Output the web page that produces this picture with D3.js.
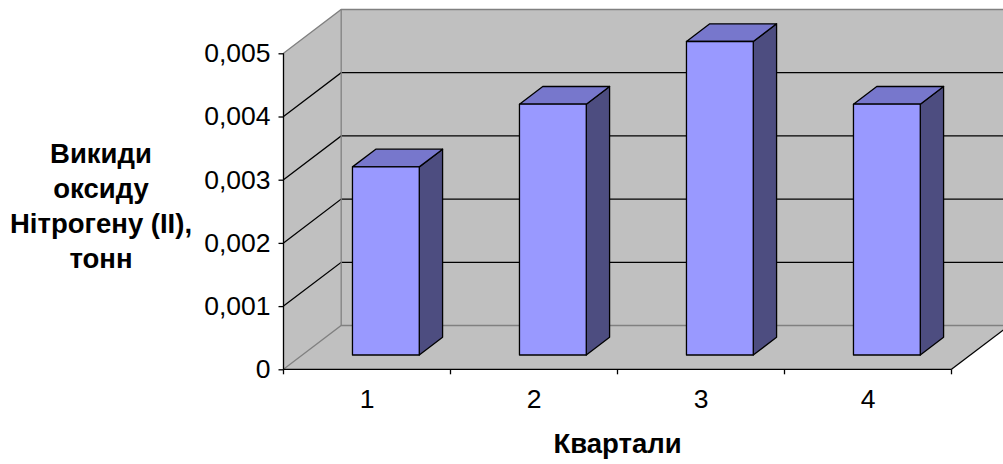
<!DOCTYPE html>
<html>
<head>
<meta charset="utf-8">
<script src="https://cdn.jsdelivr.net/npm/d3@7"></script>
<style>
  html, body { margin: 0; padding: 0; background: #ffffff; }
  svg { display: block; }
  text { font-family: "Liberation Sans", Arial, sans-serif; fill: #000; }
</style>
</head>
<body>
<svg id="chart" width="1003" height="464"></svg>
<script>
// Quarterly emissions of nitrogen(II) oxide, tonnes
const categories = ["1", "2", "3", "4"];
const emissions = [0.003, 0.004, 0.005, 0.004];
const yTicks = [0, 0.001, 0.002, 0.003, 0.004, 0.005];
const yTickLabels = ["0", "0,001", "0,002", "0,003", "0,004", "0,005"];
const yTitleLines = ["Викиди", "оксиду", "Нітрогену (II),", "тонн"];
const xTitle = "Квартали";

const svg = d3.select("#chart");

// Oblique 3D frame: front plane scales plus a depth offset
const DX = 57.7, DY = 43.8;          // full depth of the box
const F0 = 0.327, F1 = 0.731;        // bar front / back depth fractions

const x = d3.scaleBand()
  .domain(categories)
  .range([283.5, 951.5])
  .paddingInner(0.6)
  .paddingOuter(0.3);

const y = d3.scaleLinear().domain([0, 0.005]).range([369.3, 53.3]);
const h = d3.scaleLinear().domain([0, 0.005]).range([0, 313.5]);

const x0 = x.range()[0], x1 = x.range()[1];
const yMin = y(0), yMax = y(0.005);
const P = (px, py, f) => [px + f * DX, py - f * DY];
const poly = pts => pts.map(p => p.join(",")).join(" ");

const wallFill = "#c0c0c0", edge = "#808080";

// Left side wall
svg.append("polygon")
  .attr("points", poly([[x0, yMax], P(x0, yMax, 1), P(x0, yMin, 1), [x0, yMin]]))
  .attr("fill", wallFill);

// Back wall
svg.append("polygon")
  .attr("points", poly([P(x0, yMax, 1), P(x1, yMax, 1), P(x1, yMin, 1), P(x0, yMin, 1)]))
  .attr("fill", wallFill);

// Floor
svg.append("polygon")
  .attr("points", poly([[x0, yMin], P(x0, yMin, 1), P(x1, yMin, 1), [x1, yMin]]))
  .attr("fill", wallFill);

// Gridlines on side wall and back wall
const inner = yTicks.filter(v => v > 0 && v < 0.005);
const grid = svg.append("g").attr("stroke", "#000").attr("stroke-width", 1.3).attr("fill", "none");
inner.forEach(v => {
  grid.append("polyline")
    .attr("points", poly([[x0, y(v)], P(x0, y(v), 1), P(x1, y(v), 1)]));
});

// Wall edges
const edges = svg.append("g").attr("stroke", edge).attr("stroke-width", 1.3).attr("fill", "none");
edges.append("polyline").attr("points", poly([[x0, yMax], P(x0, yMax, 1), P(x1, yMax, 1)]));
edges.append("line")
  .attr("x1", P(x0, yMax, 1)[0]).attr("y1", P(x0, yMax, 1)[1])
  .attr("x2", P(x0, yMin, 1)[0]).attr("y2", P(x0, yMin, 1)[1]);
edges.append("polyline").attr("points", poly([[x0, yMin], P(x0, yMin, 1), P(x1, yMin, 1)]));

// Floor front-right edge
svg.append("line")
  .attr("x1", x1).attr("y1", yMin)
  .attr("x2", P(x1, yMin, 1)[0]).attr("y2", P(x1, yMin, 1)[1])
  .attr("stroke", "#000").attr("stroke-width", 1.3);

// Bars as prisms
const bars = svg.append("g").attr("stroke", "#000").attr("stroke-width", 1.3).attr("stroke-linejoin", "round");
categories.forEach((c, i) => {
  const v = emissions[i];
  const bl = x(c), br = x(c) + x.bandwidth();
  const bottom = yMin, top = yMin - h(v);
  const fBL = P(bl, bottom, F0), fBR = P(br, bottom, F0);
  const fTL = P(bl, top, F0), fTR = P(br, top, F0);
  const bTL = P(bl, top, F1), bTR = P(br, top, F1), bBR = P(br, bottom, F1);
  bars.append("polygon").attr("points", poly([fTR, bTR, bBR, fBR])).attr("fill", "#4d4d80");
  bars.append("polygon").attr("points", poly([fTL, fTR, bTR, bTL])).attr("fill", "#7777cc");
  bars.append("polygon").attr("points", poly([fTL, fTR, fBR, fBL])).attr("fill", "#9999ff");
});

// Value axis
const yAxis = d3.axisLeft(y)
  .tickValues(yTicks)
  .tickFormat((d, i) => yTickLabels[i])
  .tickSize(5)
  .tickPadding(8);
const ya = svg.append("g").attr("transform", `translate(${x0},0)`).call(yAxis);
ya.select(".domain").attr("stroke", "#000").attr("stroke-width", 1.3).attr("d", `M0,${yMax}V${yMin}`);
ya.selectAll(".tick line").attr("stroke", "#000").attr("stroke-width", 1.3);
ya.selectAll(".tick text")
  .attr("font-family", "Liberation Sans, Arial, sans-serif")
  .attr("font-size", 26.5).attr("fill", "#000");

// Category axis
const xAxis = d3.axisBottom(x).tickSize(0).tickPadding(0);
const xa = svg.append("g").attr("transform", `translate(0,${yMin})`).call(xAxis);
xa.select(".domain").attr("stroke", "#000").attr("stroke-width", 1.3).attr("d", `M${x0},0H${x1}`);
xa.selectAll(".tick text")
  .attr("font-family", "Liberation Sans, Arial, sans-serif")
  .attr("font-size", 26.5).attr("fill", "#000")
  .attr("dy", null).attr("y", 39);
// Category separators
const seps = d3.range(categories.length + 1).map(i => x0 + i * x.step());
xa.selectAll(".sep").data(seps).join("line")
  .attr("class", "sep")
  .attr("x1", d => d).attr("x2", d => d)
  .attr("y1", 0).attr("y2", 5)
  .attr("stroke", "#000").attr("stroke-width", 1.3);

// Axis titles
svg.append("text")
  .attr("x", (x0 + x1) / 2).attr("y", 453)
  .attr("text-anchor", "middle")
  .attr("font-size", 27.5).attr("font-weight", "bold")
  .text(xTitle);

const yt = svg.append("text")
  .attr("text-anchor", "middle")
  .attr("font-size", 27.5).attr("font-weight", "bold");
yTitleLines.forEach((line, i) => {
  yt.append("tspan").attr("x", 101).attr("y", 163 + i * 35).text(line);
});
</script>
</body>
</html>
